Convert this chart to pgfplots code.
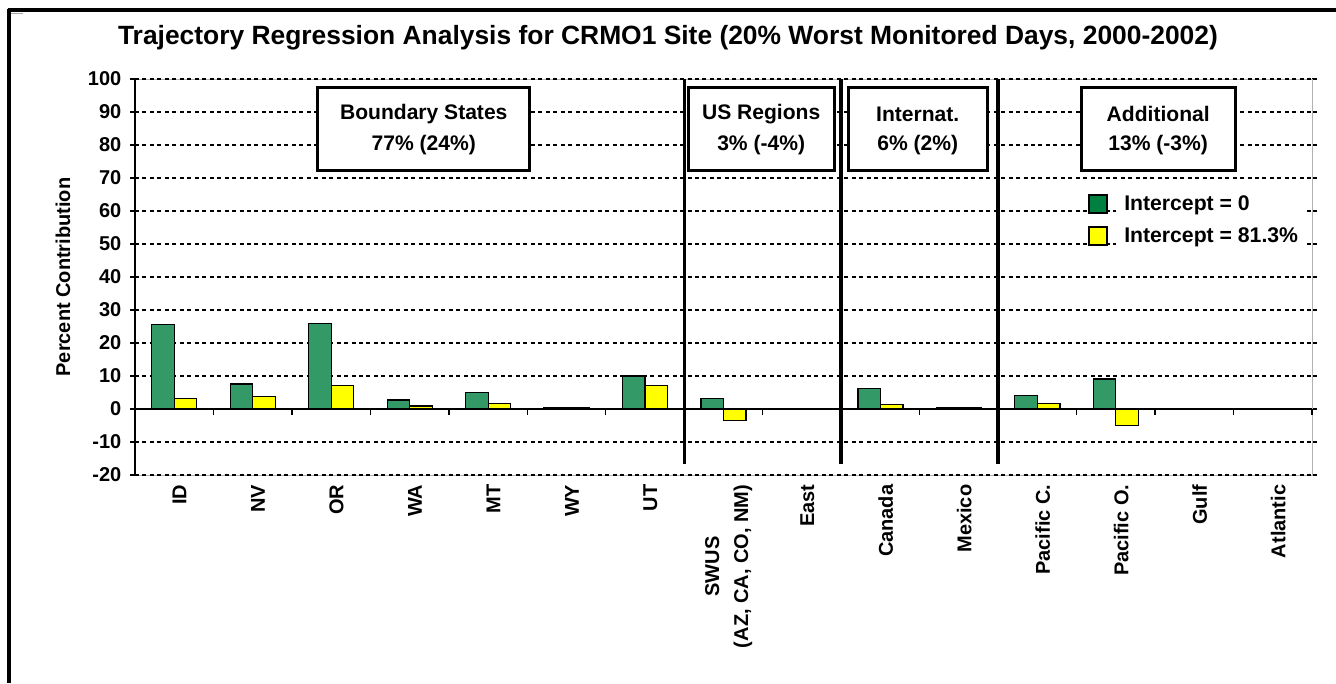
\documentclass[border=0pt]{standalone}
\usepackage{fontspec}
\setmainfont{Liberation Sans}
\usepackage{pgfplots}
\pgfplotsset{compat=1.18}
\definecolor{barG}{RGB}{51,153,102}
\definecolor{barY}{RGB}{255,255,0}
\definecolor{legG}{RGB}{0,128,64}
\newcommand{\fs}{\fontsize{15}{21.75}\selectfont\bfseries}
\newcommand{\fb}{\fontsize{15.8}{19}\selectfont\bfseries}
\newcommand{\fl}{\fontsize{15.9}{19}\selectfont\bfseries}
\newcommand{\ft}{\fontsize{19.8}{23}\selectfont\bfseries}
\begin{document}
\begin{tikzpicture}
\begin{scope}[x=0.75pt,y=0.75pt]
\useasboundingbox (0,0) rectangle (1336,-683);
\fill[white] (0,0) rectangle (1336,-683);
\draw[line width=2.4pt] (7.5,-10) -- (1336,-10);
\draw[line width=2.4pt] (9,-8.5) -- (9,-683);
\draw[gray!70, line width=0.6pt] (11,-13) -- (23,-13);
\node[font=\ft] at (668,-38) {Trajectory Regression Analysis for CRMO1 Site (20\% Worst Monitored Days, 2000-2002)};
\node[font=\fs, rotate=90] at (63,-277) {Percent Contribution};
\end{scope}
\begin{axis}[
  at={(101.25pt,-59.25pt)}, anchor=north west,
  width=882.75pt, height=297pt, scale only axis,
  xmin=-0.5, xmax=14.5, ymin=-20, ymax=100,
  ytick={-20,-10,...,100},
  xtick={0,...,14},
  xticklabels={ID,NV,OR,WA,MT,WY,UT,{SWUS\\(AZ, CA, CO, NM)},East,Canada,Mexico,Pacific C.,Pacific O.,Gulf,Atlantic},
  xticklabel style={rotate=90, anchor=east, align=center, font=\fs, yshift=-4pt},
  yticklabel style={font=\fs, xshift=-3pt},
  /pgf/number format/assume math mode=true,
  xtick style={draw=none},
  ytick style={black, line width=1pt},
  major tick length=3.75pt, tick align=outside,
  ymajorgrids, grid style={black, dash pattern=on 3pt off 2.6pt, line width=1pt},
  axis line style={draw=gray!60, line width=0.75pt},
  ybar=0pt, bar width=16.9pt,
  clip=false,
  legend style={at={(axis cs:11.64,65.6)}, anchor=north west, draw=none, fill=none, font=\fl, row sep=7.5pt, inner sep=0pt},
  legend cell align=left,
]
\addplot[fill=barG, draw=black, line width=0.9pt,
  legend image code/.code={\draw[fill=legG, draw=black, line width=1.8pt] (0pt,-6.75pt) rectangle (13.5pt,6.75pt);}] coordinates {
(0,25.5) (1,7.6) (2,26.0) (3,2.7) (4,5.1) (5,0.3) (6,10.0) (7,3.2) (8,0) (9,6.2) (10,0.3) (11,4.2) (12,9.1) (13,0) (14,0)};
\addlegendentry{\hspace{10pt}Intercept = 0}
\addplot[fill=barY, draw=black, line width=0.9pt,
  legend image code/.code={\draw[fill=barY, draw=black, line width=1.8pt] (0pt,-6.75pt) rectangle (13.5pt,6.75pt);}] coordinates {
(0,3.2) (1,3.7) (2,7.1) (3,0.9) (4,1.7) (5,0.3) (6,7.1) (7,-3.6) (8,0) (9,1.3) (10,0.3) (11,1.7) (12,-5.0) (13,0) (14,0)};
\addlegendentry{\hspace{10pt}Intercept = 81.3\%}
% white area behind legend text
\fill[white] (axis cs:12.0,66.4) rectangle (axis cs:14.42,48.5);
% axis lines
\draw[black, line width=1.2pt] (axis cs:-0.5,-20) -- (axis cs:-0.5,100);
\draw[black, line width=1.2pt] (axis cs:-0.5,0) -- (axis cs:14.5,0);
\draw[black, dash pattern=on 3pt off 2.6pt, line width=1pt] (axis cs:-0.5,-20) -- (axis cs:14.5,-20);
\draw[black, dash pattern=on 3pt off 2.6pt, line width=1pt] (axis cs:-0.5,100) -- (axis cs:14.5,100);
\pgfplotsinvokeforeach{0.5,1.5,2.5,3.5,4.5,5.5,7.5,9.5,11.5,12.5,13.5,14.5}{
  \draw[black, line width=1pt] (axis cs:#1,0) -- ++(0pt,-4.5pt);
}
% separators
\draw[black, line width=2.6pt] (axis cs:6.5,100) -- (axis cs:6.5,-16.7);
\draw[black, line width=2.6pt] (axis cs:8.5,100) -- (axis cs:8.5,-16.7);
\draw[black, line width=2.6pt] (axis cs:10.5,100) -- (axis cs:10.5,-16.7);
% group boxes
\draw[line width=2.25pt, fill=white] (axis cs:1.83,97.3) rectangle (axis cs:4.53,72.4);
\node[font=\fb] at (axis cs:3.18,89.4) {Boundary States};
\node[font=\fb] at (axis cs:3.18,80.0) {77\% (24\%)};
\draw[line width=2.25pt, fill=white] (axis cs:6.55,97.3) rectangle (axis cs:8.41,72.4);
\node[font=\fb] at (axis cs:7.48,89.4) {US Regions};
\node[font=\fb] at (axis cs:7.48,80.0) {3\% (-4\%)};
\draw[line width=2.25pt, fill=white] (axis cs:8.59,97.3) rectangle (axis cs:10.36,72.4);
\node[font=\fb] at (axis cs:9.475,89.4) {Internat.};
\node[font=\fb] at (axis cs:9.475,80.0) {6\% (2\%)};
\draw[line width=2.25pt, fill=white] (axis cs:11.56,97.3) rectangle (axis cs:13.52,72.4);
\node[font=\fb] at (axis cs:12.54,89.4) {Additional};
\node[font=\fb] at (axis cs:12.54,80.0) {13\% (-3\%)};
\end{axis}
\end{tikzpicture}
\end{document}
